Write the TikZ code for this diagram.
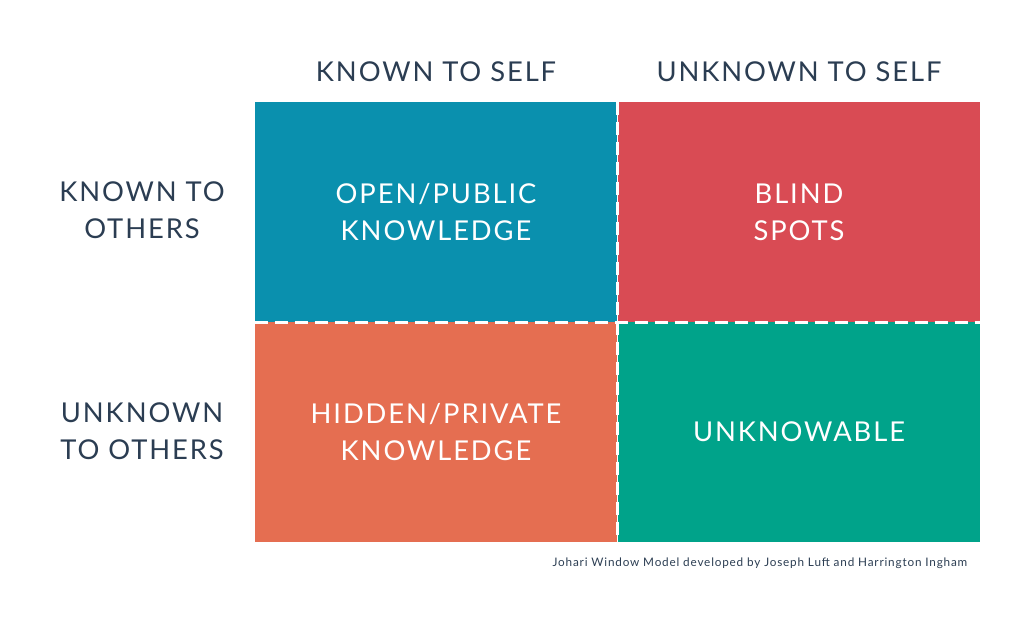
\documentclass[tikz,border=0pt]{standalone}
\usepackage{fontspec}
\setmainfont{Lato}[LetterSpace=7]
\usetikzlibrary{positioning}
\definecolor{bleu}{HTML}{0A90AE}
\definecolor{rouge}{HTML}{D94B54}
\definecolor{orange}{HTML}{E56E51}
\definecolor{vert}{HTML}{00A38A}
\definecolor{encre}{HTML}{2B3D52}
\tikzset{
  cellule/.style={minimum width=362*0.75pt, minimum height=220*0.75pt, inner sep=0pt,
    text=white, align=center, font=\fontsize{20.5}{27.5}\selectfont},
  titre/.style={text=encre, align=center, font=\fontsize{20.5}{27.5}\selectfont},
  separation/.style={white, line width=2pt, dash pattern=on 10pt off 5pt}
}
\begin{document}
\begin{tikzpicture}[x=0.75pt, y=-0.75pt]
    \useasboundingbox (0,0) rectangle (1024,620);

    % Les quatre cases de la fenetre
    \node[cellule, fill=bleu] (ouvert) at (436,212) {OPEN/PUBLIC\\KNOWLEDGE};
    \node[cellule, fill=rouge] (aveugle) at (799,212) {BLIND\\SPOTS};
    \node[cellule, fill=orange] (cache) at (436,432) {HIDDEN/PRIVATE\\KNOWLEDGE};
    \node[cellule, fill=vert] (inconnu) at (799,432) {UNKNOWABLE};

    % Lignes de separation en tirets
    \draw[separation] (ouvert.north east) -- (cache.south east);
    \draw[separation] (ouvert.south west) -- (aveugle.south east);

    % Titres des colonnes et des lignes
    \node[titre] (soi) at (436,72) {KNOWN TO SELF};
    \node[titre] (nonsoi) at (799,72) {UNKNOWN TO SELF};
    \node[titre] (autres) at (142,210) {KNOWN TO\\OTHERS};
    \node[titre] (nonautres) at (142,431) {UNKNOWN\\TO OTHERS};

    % Source
    \node[text=encre, font=\fontsize{8.8}{11}\selectfont, anchor=east] (source) at (972,563)
      {Johari Window Model developed by Joseph Luft and Harrington Ingham};
\end{tikzpicture}
\end{document}
